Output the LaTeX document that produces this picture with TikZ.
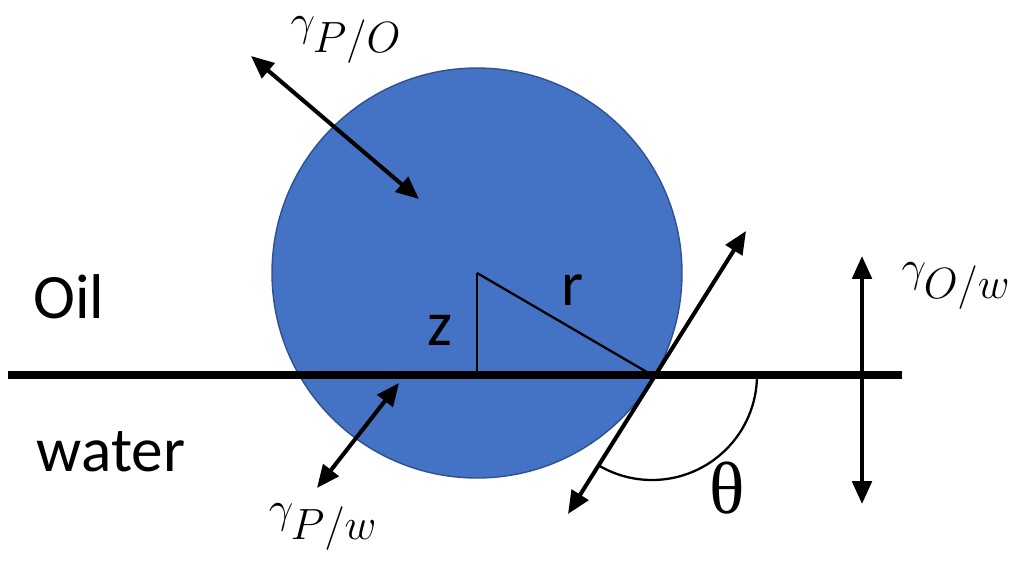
\documentclass[tikz,border=0pt]{standalone}
\usepackage{fontspec}
\setmainfont{Carlito}
\newfontfamily\thetafont{Liberation Serif}
\usepackage{xcolor}
\usetikzlibrary{arrows.meta}
\definecolor{dropblue}{HTML}{4472C4}
\definecolor{dropedge}{HTML}{2F528F}

\begin{document}
\begin{tikzpicture}[x=0.02cm,y=-0.02cm,
    force/.style={line width=2.3pt,{Triangle[length=13pt,width=11pt]}-{Triangle[length=13pt,width=11pt]}},
    lbl/.style={font=\fontsize{36}{40}\selectfont},
    mlbl/.style={font=\fontsize{39}{42}\selectfont}]
  \useasboundingbox (0,0) rectangle (1023,562);
  % Particle sitting on the interface
  \coordinate (c) at (477,273);
  \filldraw[fill=dropblue,draw=dropedge,line width=0.8pt] (c) circle (205);
  % Oil/water interface
  \coordinate (il) at (8,375);
  \coordinate (ir) at (902,375);
  \draw[line width=4.6pt] (il) -- (ir);
  % Height z and radius r
  \coordinate (foot) at (477,375);
  \coordinate (cp) at (652,375);
  \draw[line width=1.3pt] (c) -- (foot);
  \draw[line width=1.3pt] (c) -- (cp);
  \node[lbl] (zlab) at (440,330) {z};
  \node[lbl] (rlab) at (573,290) {r};
  % Tangent at the contact line and contact angle
  \coordinate (tanlo) at (568,514);
  \coordinate (tanhi) at (746,231);
  \draw[force] (tanlo) -- (tanhi);
  \coordinate (thstart) at (757,375);
  \draw[line width=1.3pt] (thstart) arc[start angle=0,end angle=120.2,radius=105];
  \node[font=\fontsize{42}{46}\selectfont\thetafont] (thlab) at (727,488) {θ};
  % Interfacial tensions
  \coordinate (po1) at (251,56);
  \coordinate (po2) at (419,199);
  \draw[force] (po1) -- (po2);
  \node[mlbl] (polab) at (346,40) {$\gamma_{P/O}$};
  \coordinate (pw1) at (317,488);
  \coordinate (pw2) at (399,383);
  \draw[force] (pw1) -- (pw2);
  \node[mlbl] (pwlab) at (323,527) {$\gamma_{P/w}$};
  \coordinate (ow1) at (862,256);
  \coordinate (ow2) at (862,504);
  \draw[force] (ow1) -- (ow2);
  \node[mlbl] (owlab) at (956,286) {$\gamma_{O/w}$};
  % Phases
  \node[lbl] (oil) at (69,297) {Oil};
  \node[lbl] (water) at (111,452) {water};
\end{tikzpicture}
\end{document}
